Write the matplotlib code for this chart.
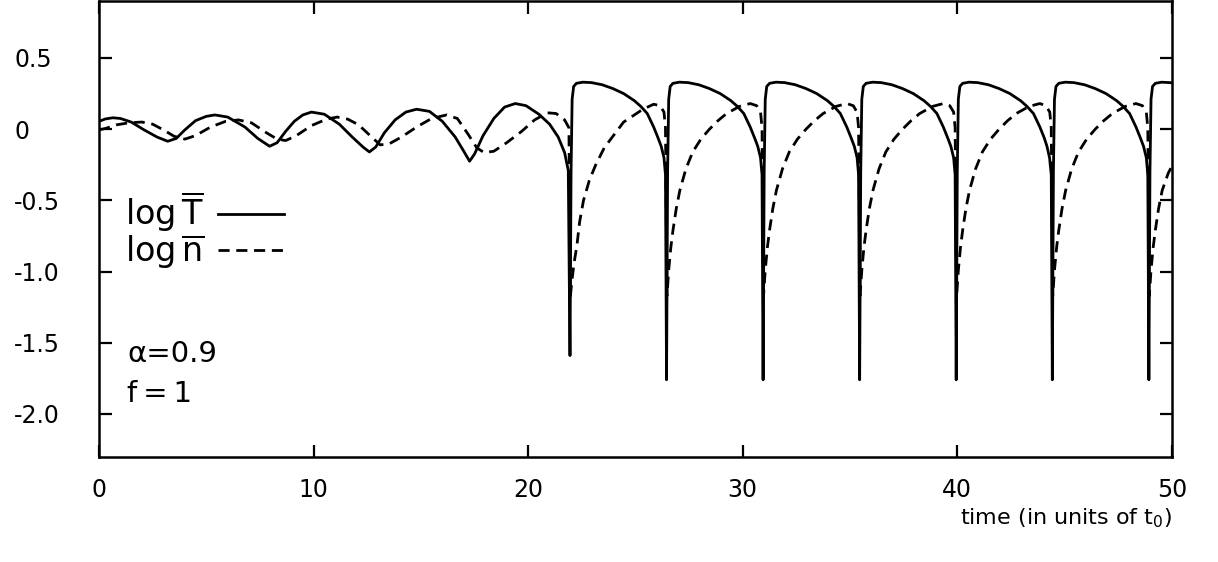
import matplotlib
matplotlib.use("Agg")
import matplotlib.pyplot as plt

plt.rcParams['font.family'] = ['DejaVu Sans']
plt.rcParams['mathtext.fontset'] = 'dejavusans'
plt.rcParams['mathtext.default'] = 'regular'

# ---------------- data ----------------
# log T (solid)
logT_t = [
    0.0, 0.3, 0.65, 1.0, 1.5, 2.1, 2.7, 3.2, 3.6, 4.0, 4.5, 5.0, 5.4, 6.0, 6.8,
    7.4, 7.95, 8.3, 8.7, 9.1, 9.5, 9.9, 10.5, 11.2, 11.8, 12.3, 12.6, 12.9, 13.3,
    13.8, 14.3, 14.8, 15.4, 16.0, 16.6, 17.0, 17.27, 17.5, 17.9, 18.4, 18.9, 19.4,
    19.9, 20.5, 21.0, 21.4, 21.7, 21.87,
    # cycle 1
    21.95, 22.00, 22.05, 22.12, 22.25, 22.55, 22.95, 23.45, 23.95, 24.45, 24.95,
    25.25, 25.55, 25.85, 26.05, 26.20, 26.33, 26.40,
    # cycle 2
    26.45, 26.50, 26.55, 26.62, 26.75, 27.05, 27.45, 27.95, 28.45, 28.95, 29.45,
    29.75, 30.05, 30.35, 30.55, 30.70, 30.83, 30.90,
    # cycle 3
    30.95, 31.00, 31.05, 31.12, 31.25, 31.55, 31.95, 32.45, 32.95, 33.45, 33.95,
    34.25, 34.55, 34.85, 35.05, 35.20, 35.33, 35.40,
    # cycle 4
    35.45, 35.50, 35.55, 35.62, 35.75, 36.05, 36.45, 36.95, 37.45, 37.95, 38.45,
    38.75, 39.05, 39.35, 39.55, 39.70, 39.83, 39.90,
    # cycle 5
    39.95, 40.00, 40.05, 40.12, 40.25, 40.55, 40.95, 41.45, 41.95, 42.45, 42.95,
    43.25, 43.55, 43.85, 44.05, 44.18, 44.30, 44.38,
    # cycle 6
    44.43, 44.48, 44.53, 44.60, 44.73, 45.03, 45.43, 45.93, 46.43, 46.93, 47.43,
    47.73, 48.03, 48.33, 48.53, 48.68, 48.81, 48.88,
    # cycle 7
    48.93, 48.98, 49.03, 49.10, 49.23, 49.53, 49.93, 50.0,
]
logT_v = [
    0.055, 0.072, 0.08, 0.075, 0.05, -0.005, -0.055, -0.085, -0.065, -0.005, 0.06,
    0.09, 0.10, 0.085, 0.015, -0.065, -0.12, -0.095, -0.015, 0.055, 0.10, 0.12,
    0.105, 0.035, -0.055, -0.125, -0.16, -0.125, -0.025, 0.065, 0.12, 0.14, 0.125,
    0.055, -0.055, -0.155, -0.225, -0.175, -0.045, 0.075, 0.155, 0.18, 0.165,
    0.105, 0.035, -0.055, -0.165, -0.29,
    -1.59, -0.30, 0.21, 0.30, 0.322, 0.33, 0.327, 0.312, 0.285, 0.25, 0.20,
    0.16, 0.11, 0.015, -0.06, -0.12, -0.20, -0.32,
    -1.76, -0.30, 0.21, 0.30, 0.322, 0.33, 0.327, 0.312, 0.285, 0.25, 0.20,
    0.16, 0.11, 0.015, -0.06, -0.12, -0.20, -0.32,
    -1.76, -0.30, 0.21, 0.30, 0.322, 0.33, 0.327, 0.312, 0.285, 0.25, 0.20,
    0.16, 0.11, 0.015, -0.06, -0.12, -0.20, -0.32,
    -1.76, -0.30, 0.21, 0.30, 0.322, 0.33, 0.327, 0.312, 0.285, 0.25, 0.20,
    0.16, 0.11, 0.015, -0.06, -0.12, -0.20, -0.32,
    -1.76, -0.30, 0.21, 0.30, 0.322, 0.33, 0.327, 0.312, 0.285, 0.25, 0.20,
    0.16, 0.11, 0.015, -0.06, -0.12, -0.20, -0.32,
    -1.76, -0.30, 0.21, 0.30, 0.322, 0.33, 0.327, 0.312, 0.285, 0.25, 0.20,
    0.16, 0.11, 0.015, -0.06, -0.12, -0.20, -0.32,
    -1.76, -0.30, 0.21, 0.30, 0.322, 0.33, 0.327, 0.326,
]

# log n (dashed)
logn_t = [
    0.0, 0.3, 0.8, 1.4, 2.0, 2.5, 3.0, 3.5, 4.0, 4.5, 5.2, 5.9, 6.5, 7.1, 7.8,
    8.3, 8.7, 9.2, 9.9, 10.6, 11.1, 11.6, 12.1, 12.6, 13.1, 13.5, 14.1, 14.8,
    15.5, 16.2, 16.7, 17.2, 17.6, 17.95, 18.4, 19.0, 19.7, 20.3, 20.9, 21.3,
    21.7, 21.9,
    # cycle 1
    21.97, 22.05, 22.15, 22.27, 22.40, 22.58, 22.85, 23.15, 23.55, 23.95, 24.45,
    24.95, 25.35, 25.85, 26.15, 26.33, 26.40,
    # cycle 2
    26.47, 26.55, 26.65, 26.75, 26.90, 27.07, 27.35, 27.67, 28.05, 28.45, 28.85,
    29.25, 29.85, 30.35, 30.65, 30.83, 30.90,
    # cycle 3
    30.97, 31.05, 31.15, 31.25, 31.40, 31.57, 31.85, 32.17, 32.55, 32.95, 33.35,
    33.75, 34.35, 34.85, 35.15, 35.33, 35.40,
    # cycle 4
    35.47, 35.55, 35.65, 35.75, 35.90, 36.07, 36.35, 36.67, 37.05, 37.45, 37.85,
    38.25, 38.85, 39.35, 39.65, 39.83, 39.90,
    # cycle 5
    39.97, 40.05, 40.15, 40.25, 40.40, 40.57, 40.85, 41.17, 41.55, 41.95, 42.35,
    42.75, 43.35, 43.85, 44.13, 44.31, 44.38,
    # cycle 6
    44.45, 44.53, 44.63, 44.73, 44.88, 45.05, 45.33, 45.65, 46.03, 46.43, 46.83,
    47.23, 47.83, 48.33, 48.63, 48.81, 48.88,
    # cycle 7
    48.95, 49.03, 49.13, 49.23, 49.38, 49.55, 49.83, 50.0,
]
logn_v = [
    -0.005, 0.005, 0.03, 0.045, 0.05, 0.035, -0.005, -0.05, -0.07, -0.045, 0.015,
    0.055, 0.065, 0.045, -0.025, -0.07, -0.08, -0.045, 0.025, 0.07, 0.085, 0.07,
    0.03, -0.04, -0.11, -0.105, -0.055, 0.015, 0.075, 0.10, 0.075, -0.035,
    -0.13, -0.165, -0.155, -0.095, -0.015, 0.065, 0.115, 0.11, 0.065, 0.01,
    -1.17, -1.05, -0.93, -0.82, -0.65, -0.50, -0.36, -0.25, -0.13, -0.05, 0.05,
    0.10, 0.14, 0.175, 0.165, 0.12, 0.01,
    -1.17, -0.99, -0.83, -0.71, -0.56, -0.43, -0.28, -0.16, -0.07, 0.0, 0.06,
    0.11, 0.16, 0.18, 0.165, 0.12, 0.01,
    -1.17, -0.99, -0.83, -0.71, -0.56, -0.43, -0.28, -0.16, -0.07, 0.0, 0.06,
    0.11, 0.16, 0.18, 0.165, 0.12, 0.01,
    -1.17, -0.99, -0.83, -0.71, -0.56, -0.43, -0.28, -0.16, -0.07, 0.0, 0.06,
    0.11, 0.16, 0.18, 0.165, 0.12, 0.01,
    -1.17, -0.99, -0.83, -0.71, -0.56, -0.43, -0.28, -0.16, -0.07, 0.0, 0.06,
    0.11, 0.16, 0.18, 0.165, 0.12, 0.01,
    -1.17, -0.99, -0.83, -0.71, -0.56, -0.43, -0.28, -0.16, -0.07, 0.0, 0.06,
    0.11, 0.16, 0.18, 0.165, 0.12, 0.01,
    -1.17, -0.99, -0.83, -0.71, -0.56, -0.43, -0.31, -0.26,
]

x_ticks = [0, 10, 20, 30, 40, 50]
x_tick_labels = ["0", "10", "20", "30", "40", "50"]
y_ticks = [0.5, 0.0, -0.5, -1.0, -1.5, -2.0]
y_tick_labels = ["0.5", "0", "-0.5", "-1.0", "-1.5", "-2.0"]
label_T = r"log$\,\overline{\mathrm{T}}$"
label_n = r"log$\,\overline{\mathrm{n}}$"
x_label = r"time (in units of t$_0$)"
param_text = ["α=0.9", "f\u2009=\u20091"]

# ---------------- figure ----------------
fig = plt.figure(figsize=(12.18, 5.62), dpi=100)
ax = fig.add_axes([0.0813, 0.1874, 0.8808, 0.8108])

ax.plot(logT_t, logT_v, color="black", lw=2.0, solid_joinstyle="round",
        label=label_T)
ax.plot(logn_t, logn_v, color="black", lw=2.0, dashes=(4.0, 2.4),
        label=label_n)

ax.set_xlim(0, 50)
ax.set_ylim(-2.30, 0.90)

ax.set_xticks(x_ticks)
ax.set_xticklabels(x_tick_labels)
ax.set_yticks(y_ticks)
ax.set_yticklabels(y_tick_labels)
ax.tick_params(direction="in", length=9, width=1.6, top=True, right=True,
               labelsize=17)
ax.tick_params(axis="x", pad=15)
ax.tick_params(axis="y", pad=61)
for lab in ax.get_yticklabels():
    lab.set_horizontalalignment("left")

for sp in ax.spines.values():
    sp.set_linewidth(1.8)

ax.text(1.0, -0.148, x_label, transform=ax.transAxes, ha="right",
        va="baseline", fontsize=16)

leg = ax.legend(loc="upper left", bbox_to_anchor=(0.024, 0.585),
                markerfirst=False, frameon=False, fontsize=24,
                handlelength=2.0, handletextpad=0.4, labelspacing=-0.05,
                borderpad=0.0, borderaxespad=0.0)

ax.text(0.026, 0.208, param_text[0], transform=ax.transAxes, ha="left",
        va="baseline", fontsize=21)
ax.text(0.026, 0.120, param_text[1], transform=ax.transAxes, ha="left",
        va="baseline", fontsize=21)

fig.savefig("out.png", dpi=100)
